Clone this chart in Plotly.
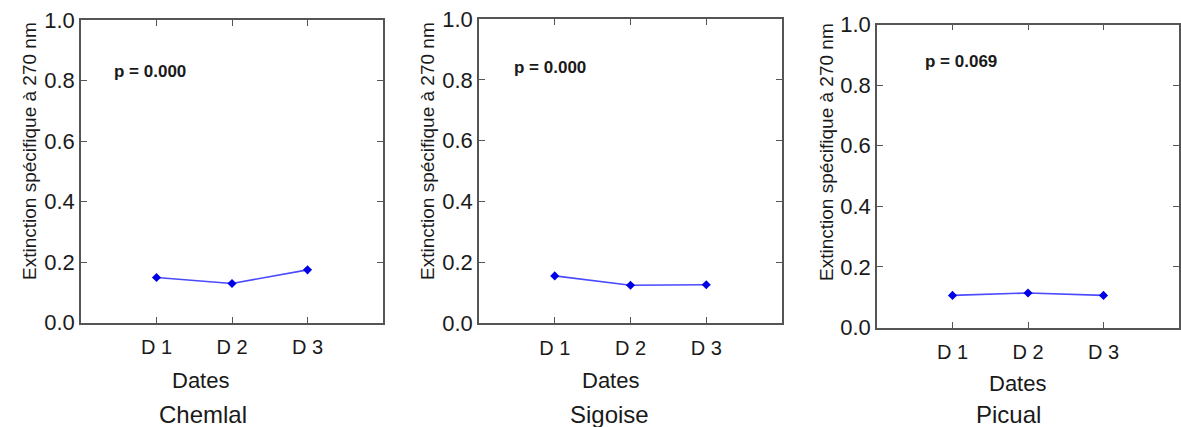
import plotly.graph_objects as go

W, H = 1181, 427

dates = ["D 1", "D 2", "D 3"]
cultivars = ["Chemlal", "Sigoise", "Picual"]
chemlal = [0.149, 0.129, 0.174]
sigoise = [0.155, 0.124, 0.126]
picual = [0.106, 0.114, 0.106]
p_values = ["p = 0.000", "p = 0.000", "p = 0.069"]
y_title = "Extinction spécifique à 270 nm"
x_title = "Dates"
y_ticks = [0.0, 0.2, 0.4, 0.6, 0.8, 1.0]

series = [chemlal, sigoise, picual]

# pixel boxes of the plot areas (left, right, top, bottom)
boxes = [(81, 383, 20, 322.5), (479, 782, 19, 323), (877, 1179, 24.5, 327.5)]
ytitle_pos = [(30, 151), (428, 151), (827, 152)]
p_pos = [(150, 72), (550, 68), (961, 62)]
dates_pos = [(200, 380), (610, 380), (1017, 383)]
name_pos = [(203, 414), (609, 414), (1008, 414)]

fig = go.Figure()
annotations = []
layout = {}
font = "Liberation Sans, Arial, sans-serif"

for i, (vals, box) in enumerate(zip(series, boxes)):
    n = "" if i == 0 else str(i + 1)
    l, r, t, b = box
    fig.add_trace(go.Scatter(
        x=dates, y=vals, mode="lines+markers",
        xaxis="x" + n, yaxis="y" + n,
        line=dict(color="#4a4aff", width=1.6),
        marker=dict(color="#0000e6", size=7, symbol="diamond"),
        showlegend=False,
    ))
    axstyle = dict(showline=True, linecolor="#555555", linewidth=1.5, mirror="ticks",
                   ticks="inside", ticklen=6, tickcolor="#555555", showgrid=False,
                   zeroline=False, automargin=False)
    layout["xaxis" + n] = dict(domain=[l / W, r / W], anchor="y" + n,
                               type="category", range=[-1, 3], ticklabelstandoff=6,
                               tickfont=dict(family=font, size=20, color="#1a1a1a"),
                               **axstyle)
    layout["yaxis" + n] = dict(domain=[1 - b / H, 1 - t / H], anchor="x" + n,
                               range=[0, 1], tickvals=y_ticks, tickformat=".1f",
                               ticklabelstandoff=0,
                               tickfont=dict(family=font, size=22, color="#1a1a1a"),
                               **axstyle)
    tx, ty = ytitle_pos[i]
    annotations.append(dict(text=y_title, x=tx / W, y=1 - ty / H, xref="paper", yref="paper",
                            showarrow=False, textangle=-90, xanchor="center", yanchor="middle",
                            font=dict(family=font, size=19, color="#1a1a1a")))
    px_, py_ = p_pos[i]
    annotations.append(dict(text="<b>" + p_values[i] + "</b>", x=px_ / W, y=1 - py_ / H,
                            xref="paper", yref="paper", showarrow=False,
                            xanchor="center", yanchor="middle",
                            font=dict(family=font, size=17, color="#1a1a1a")))
    dx, dy = dates_pos[i]
    annotations.append(dict(text=x_title, x=dx / W, y=1 - dy / H, xref="paper", yref="paper",
                            showarrow=False, xanchor="center", yanchor="middle",
                            font=dict(family=font, size=22, color="#1a1a1a")))
    nx, ny = name_pos[i]
    annotations.append(dict(text=cultivars[i], x=nx / W, y=1 - ny / H, xref="paper", yref="paper",
                            showarrow=False, xanchor="center", yanchor="middle",
                            font=dict(family=font, size=24, color="#1a1a1a")))

fig.update_layout(
    width=W, height=H, margin=dict(l=0, r=0, t=0, b=0, autoexpand=False),
    paper_bgcolor="white", plot_bgcolor="white",
    annotations=annotations, **layout,
)

fig.write_html("out.html")
